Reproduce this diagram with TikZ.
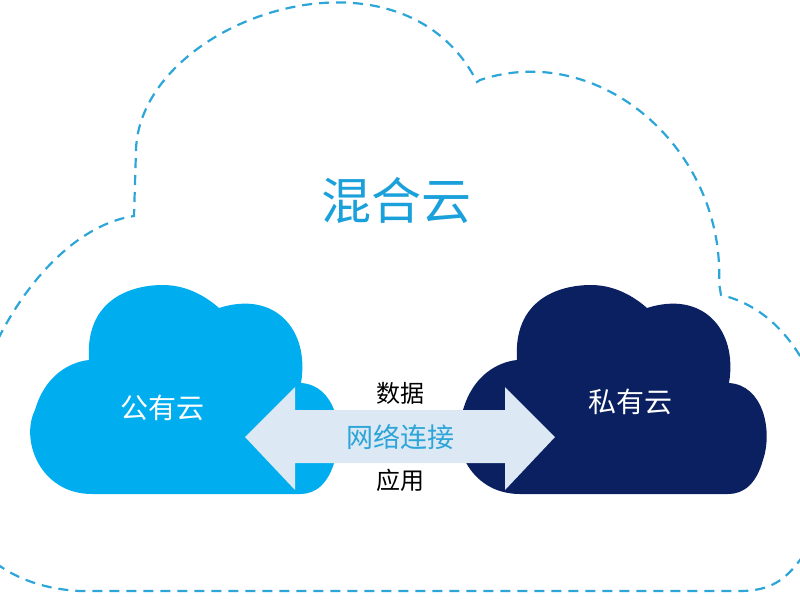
\documentclass[tikz,border=0pt]{standalone}
\usepackage{fontspec}
\newfontfamily\cjk{Noto Sans CJK SC}
\definecolor{dashc}{HTML}{2CA5D8}
\definecolor{pub}{HTML}{00AEEF}
\definecolor{priv}{HTML}{0A2060}
\definecolor{arr}{HTML}{DCE8F4}
\definecolor{title}{HTML}{1AA0DB}
\begin{document}
\begin{tikzpicture}[x=1pt,y=-1pt,
  cloudshape/.pic={\fill[#1] (92,494) .. controls (40,494) and (20,440) .. (35,410) .. controls (45,375) and (70,362) .. (89,360) .. controls (85,300) and (130,285) .. (163,285) .. controls (190,285) and (210,300) .. (219,308) .. controls (275,290) and (310,330) .. (301,383) .. controls (335,385) and (345,430) .. (335,460) .. controls (328,485) and (315,494) .. (300,494) -- cycle;},
  lbl/.style={font=\cjk, inner sep=0pt}]
\useasboundingbox (0,0) rectangle (800,600);
\begin{scope}
\clip (0,0) rectangle (800,600);
\draw[dashc, line width=2.2pt, dash pattern=on 10pt off 7pt]
  (-40,520) .. controls (-50,380) and (40,230) .. (134,216) -- (136,150)
  .. controls (140,20) and (400,-70) .. (477,82)
  -- (480,80) .. controls (600,40) and (725,150) .. (719,283) -- (721,295)
  .. controls (830,320) and (860,500) .. (800,560)
  .. controls (785,580) and (770,591) .. (740,591) -- (80,591)
  .. controls (20,588) and (-20,560) .. (-40,520);
\end{scope}
\pic {cloudshape=pub};
\pic[xshift=428pt] {cloudshape=priv};
\node[lbl, font=\cjk\fontsize{28}{30}\selectfont, text=white] (pub) at (162,408) {公有云};
\node[lbl, font=\cjk\fontsize{28}{30}\selectfont, text=white] (priv) at (630,402) {私有云};
\fill[arr] (245,437) -- (295,387) -- (295,410) -- (505,410) -- (505,387) -- (555,437) -- (505,490) -- (505,463) -- (295,463) -- (295,490) -- cycle;
\node[lbl, font=\cjk\fontsize{50}{54}\selectfont, text=title] (hy) at (396,200) {混合云};
\node[lbl, font=\cjk\fontsize{24}{26}\selectfont] (d) at (400,393) {数据};
\node[lbl, font=\cjk\fontsize{27}{29}\selectfont, text=dashc] (n) at (400,437) {网络连接};
\node[lbl, font=\cjk\fontsize{24}{26}\selectfont] (a) at (400,480) {应用};
\end{tikzpicture}
\end{document}
